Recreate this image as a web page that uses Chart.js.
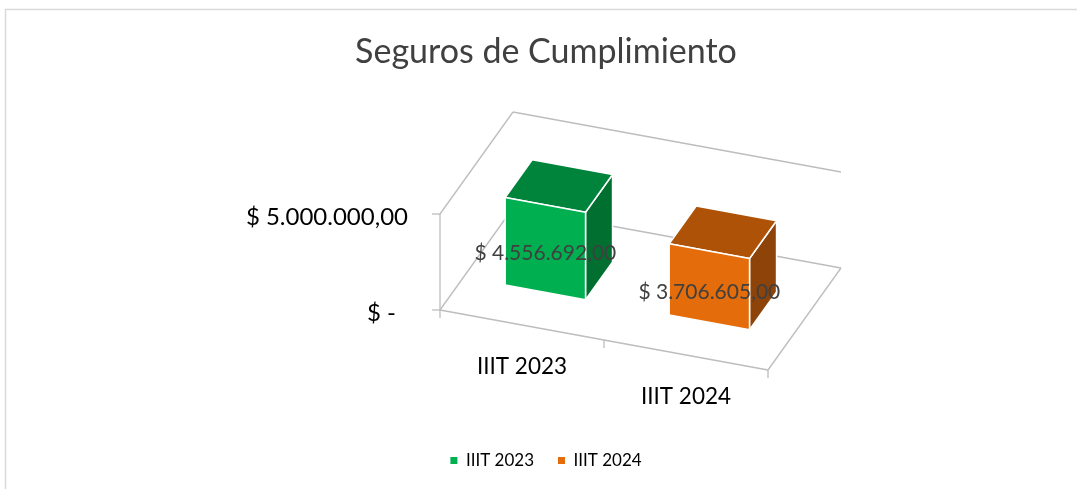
<!DOCTYPE html>
<html>
<head>
<meta charset="utf-8">
<script src="https://cdn.jsdelivr.net/npm/chart.js@4/dist/chart.umd.min.js"></script>
<style>
  html, body { margin: 0; padding: 0; background: #ffffff; }
  #wrap { width: 1077px; height: 489px; position: relative; }
</style>
</head>
<body>
<div id="wrap"><canvas id="chart"></canvas></div>
<script>
// chart data
const chartTitle = 'Seguros de Cumplimiento';
const categories = ['IIIT 2023', 'IIIT 2024'];
const seriesNames = ['IIIT 2023', 'IIIT 2024'];
const values = [4556692, 3706605];
const yTickValues = [0, 5000000];

const palette = {
    front: ['#00b050', '#e46c0a'],
    top: ['#00843c', '#ad5207'],
    side: ['#006f30', '#8e4308'],
};

const FONT = 'Lato, "Open Sans", sans-serif';

// oblique 3D view: u = category axis, v = value axis, d = depth (all 0..1)
const view = {
    ox: 440, oy: 310,
    ux: 328, uy: 60,
    dx: 73, dy: -102,
    vx: 0, vy: -96,
    barFront: 0.32, barBack: 0.69,
};

function project(u, v, d) {
    return [
        view.ox + u * view.ux + d * view.dx + v * view.vx,
        view.oy + u * view.uy + d * view.dy + v * view.vy,
    ];
}

function money(n) {
    if (n === 0) return '$ -';
    const [int, dec] = n.toFixed(2).split('.');
    return '$ ' + int.replace(/\B(?=(\d{3})+(?!\d))/g, '.') + ',' + dec;
}

function line(ctx, a, b) {
    ctx.beginPath();
    ctx.moveTo(a[0], a[1]);
    ctx.lineTo(b[0], b[1]);
    ctx.stroke();
}

function face(ctx, pts, fill) {
    ctx.beginPath();
    pts.forEach((p, i) => (i ? ctx.lineTo(p[0], p[1]) : ctx.moveTo(p[0], p[1])));
    ctx.closePath();
    ctx.fillStyle = fill;
    ctx.fill();
    ctx.stroke();
}

const frame = {
    id: 'frame',
    beforeDraw(chart) {
        const { ctx, width, height } = chart;
        ctx.save();
        ctx.fillStyle = '#ffffff';
        ctx.fillRect(0, 0, width, height);
        ctx.strokeStyle = '#d9d9d9';
        ctx.lineWidth = 1.5;
        ctx.beginPath();
        ctx.moveTo(5.5, height + 5);
        ctx.lineTo(5.5, 9.5);
        ctx.lineTo(width + 5, 9.5);
        ctx.stroke();
        ctx.restore();
    }
};

const box3d = {
    id: 'box3d',
    beforeDatasetsDraw(chart) {
        const { ctx, chartArea: a, scales: { x, y } } = chart;
        const toU = px => (px - a.left) / a.width;
        const toV = py => (a.bottom - py) / a.height;

        ctx.save();
        ctx.strokeStyle = '#bdbdbd';
        ctx.lineWidth = 1.3;

        // walls and floor
        line(ctx, project(0, 0, 0), project(0, 1, 0));
        line(ctx, project(0, 1, 0), project(0, 1, 1));
        line(ctx, project(0, 1, 1), project(1, 1, 1));
        line(ctx, project(0, 0, 0), project(0, 0, 1));
        line(ctx, project(0, 0, 1), project(1, 0, 1));
        line(ctx, project(1, 0, 0), project(1, 0, 1));
        line(ctx, project(0, 0, 0), project(1, 0, 0));

        // value axis ticks and labels
        ctx.font = '24px ' + FONT;
        ctx.fillStyle = '#000000';
        ctx.textAlign = 'right';
        ctx.textBaseline = 'middle';
        y.ticks.forEach(t => {
            const p = project(0, toV(y.getPixelForValue(t.value)), 0);
            line(ctx, [p[0] - 8, p[1]], p);
            const shift = t.value === 0 ? 12 : 0;
            ctx.fillText(money(t.value), p[0] - 32 - shift, p[1] + 3);
        });

        // category boundaries and labels
        for (let i = 0; i <= categories.length; i++) {
            const p = project(toU(x.getPixelForValue(i - 0.5)), 0, 0);
            line(ctx, p, [p[0], p[1] + 8]);
        }
        ctx.font = '22.5px ' + FONT;
        ctx.textAlign = 'center';
        categories.forEach((c, i) => {
            const p = project(toU(x.getPixelForValue(i)), 0, 0);
            ctx.fillText(c, p[0], p[1] + 42);
        });

        // bars
        const meta = chart.getDatasetMeta(0);
        ctx.strokeStyle = '#ffffff';
        ctx.lineWidth = 1.5;
        ctx.lineJoin = 'round';
        const d0 = view.barFront, d1 = view.barBack;
        meta.data.forEach((bar, i) => {
            const { x: bx, y: by, base, width } = bar.getProps(['x', 'y', 'base', 'width'], true);
            const u0 = toU(bx - width / 2), u1 = toU(bx + width / 2);
            const v0 = toV(base), v1 = toV(by);
            face(ctx, [project(u1, v0, d0), project(u1, v0, d1), project(u1, v1, d1), project(u1, v1, d0)], palette.side[i]);
            face(ctx, [project(u0, v1, d0), project(u1, v1, d0), project(u1, v1, d1), project(u0, v1, d1)], palette.top[i]);
            face(ctx, [project(u0, v0, d0), project(u1, v0, d0), project(u1, v1, d0), project(u0, v1, d0)], palette.front[i]);
        });

        // data labels
        ctx.font = '21px ' + FONT;
        ctx.fillStyle = '#404040';
        ctx.textAlign = 'center';
        meta.data.forEach((bar, i) => {
            const { x: bx, y: by, base } = bar.getProps(['x', 'y', 'base'], true);
            const p = project(toU(bx), (toV(base) + toV(by)) / 2, d0);
            ctx.fillText(money(values[i]), p[0], p[1] + 5);
        });

        ctx.restore();
        return false;
    }
};

new Chart(document.getElementById('chart'), {
    type: 'bar',
    data: {
        labels: categories,
        datasets: [{
            label: 'Seguros de Cumplimiento',
            data: values,
            backgroundColor: palette.front,
            categoryPercentage: 1,
            barPercentage: 0.49,
        }]
    },
    options: {
        responsive: true,
        maintainAspectRatio: false,
        animation: false,
        layout: { padding: { left: 15, right: 0, top: 0, bottom: 10 } },
        plugins: {
            title: {
                display: true,
                text: chartTitle,
                color: '#404040',
                font: { family: FONT, size: 34, weight: 'normal' },
                padding: { top: 32, bottom: 10 },
            },
            legend: {
                position: 'bottom',
                onClick: null,
                labels: {
                    color: '#595959',
                    font: { family: FONT, size: 17 },
                    boxWidth: 7,
                    boxHeight: 7,
                    padding: 24,
                    generateLabels: () => seriesNames.map((name, i) => ({
                        text: name,
                        fillStyle: palette.front[i],
                        strokeStyle: palette.front[i],
                        lineWidth: 0,
                        hidden: false,
                        index: i,
                    })),
                },
            },
            tooltip: { enabled: false },
        },
        scales: {
            x: { display: false, offset: true },
            y: { display: false, min: 0, max: 5000000, ticks: { stepSize: 5000000 } },
        },
    },
    plugins: [frame, box3d],
});
</script>
</body>
</html>
